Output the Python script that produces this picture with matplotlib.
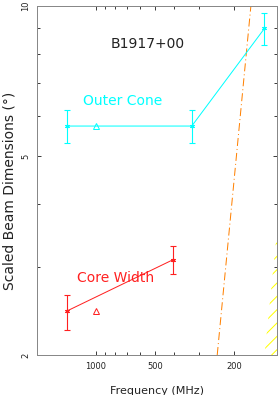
import numpy as np
import matplotlib
matplotlib.use("Agg")
import matplotlib.pyplot as plt
from matplotlib.ticker import FixedLocator, LogLocator, NullFormatter

# beam dimensions (frequency in MHz, size in degrees)
outer_freq = [1400, 327, 140]
outer_size = [5.74, 5.74, 9.0]
outer_low = [5.30, 5.30, 8.32]
outer_high = [6.17, 6.17, 9.67]

core_freq = [1400, 408]
core_size = [2.45, 3.10]
core_low = [2.24, 2.91]
core_high = [2.64, 3.31]

model_freq = [1000]
outer_model = [5.74]
core_model = [2.45]

limit_freq = [243, 164]
limit_size = [2.0, 10.0]

hatch_freq = [140, 120.5]
hatch_size = [2.0, 3.6]

x_ticks = [1000, 500, 200]
x_ticklabels = ["1000", "500", "200"]
y_ticks = [2, 5, 10]
y_ticklabels = ["2", "5", "10"]

DPI = 80
plt.rcParams["hatch.linewidth"] = 0.9
fig = plt.figure(figsize=(278 / DPI, 395 / DPI), dpi=DPI)
ax = fig.add_axes([36.5 / 278, 40 / 395, 240.5 / 278, 349.5 / 395])
ax.set_xscale("log")
ax.set_yscale("log")
ax.set_xlim(2000, 121)
ax.set_ylim(2, 10)

ax.fill_betweenx(hatch_size, hatch_freq, 100, facecolor="none",
                 edgecolor="#ffff00", hatch="//", linewidth=0)

ax.plot(limit_freq, limit_size, color="#ff8000", linewidth=0.9,
        linestyle=(0, (8, 3, 1, 3)))

ax.errorbar(outer_freq, outer_size,
            yerr=[np.subtract(outer_size, outer_low), np.subtract(outer_high, outer_size)],
            color="#00ffff", ecolor="#00ffff", linewidth=0.9, elinewidth=1.0,
            capsize=2.5, capthick=1.0, marker=(6, 2, 0), markersize=4)
ax.plot(model_freq, outer_model, linestyle="none", marker="^", markersize=5.5,
        markerfacecolor="none", markeredgecolor="#00ffff", markeredgewidth=0.9)

ax.errorbar(core_freq, core_size,
            yerr=[np.subtract(core_size, core_low), np.subtract(core_high, core_size)],
            color="#ff2020", ecolor="#ff2020", linewidth=0.9, elinewidth=1.0,
            capsize=2.5, capthick=1.0, marker=(6, 2, 0), markersize=4)
ax.plot(model_freq, core_model, linestyle="none", marker="^", markersize=5.5,
        markerfacecolor="none", markeredgecolor="#ff2020", markeredgewidth=0.9)

ax.text(0.4615, 0.891, "B1917+00", transform=ax.transAxes, ha="center", va="center",
        fontsize=12.5, color="#222222")
ax.text(0.36, 0.726, "Outer Cone", transform=ax.transAxes, ha="center", va="center",
        fontsize=12.5, color="#00ffff")
ax.text(0.33, 0.221, "Core Width", transform=ax.transAxes, ha="center", va="center",
        fontsize=12.5, color="#ff2020")

ax.xaxis.set_major_locator(FixedLocator(x_ticks))
ax.set_xticklabels(x_ticklabels)
ax.xaxis.set_minor_locator(LogLocator(base=10, subs=np.arange(2, 10), numticks=20))
ax.xaxis.set_minor_formatter(NullFormatter())
ax.yaxis.set_major_locator(FixedLocator(y_ticks))
ax.set_yticklabels(y_ticklabels, rotation=90, va="center")
ax.yaxis.set_minor_locator(LogLocator(base=10, subs=np.arange(2, 10), numticks=20))
ax.yaxis.set_minor_formatter(NullFormatter())

ax.tick_params(which="both", direction="in", top=True, right=True,
               color="#404040", width=0.9, labelsize=7.5, labelcolor="#222222")
ax.tick_params(which="major", length=4)
ax.tick_params(which="minor", length=2.5)
ax.tick_params(axis="x", pad=6.3)
ax.tick_params(axis="y", pad=5.5)
for spine in ax.spines.values():
    spine.set_color("#888888")
    spine.set_linewidth(0.9)

fig.text(156.75 / 278, 1.5 / 395, "Frequency (MHz)", ha="center", va="baseline",
         fontsize=10, color="#222222")
ax.text(-0.114, 0.469, "Scaled Beam Dimensions (\u00b0)", transform=ax.transAxes,
        rotation=90, ha="center", va="center", fontsize=12.5, color="#222222")

fig.savefig("out.png", dpi=DPI)
